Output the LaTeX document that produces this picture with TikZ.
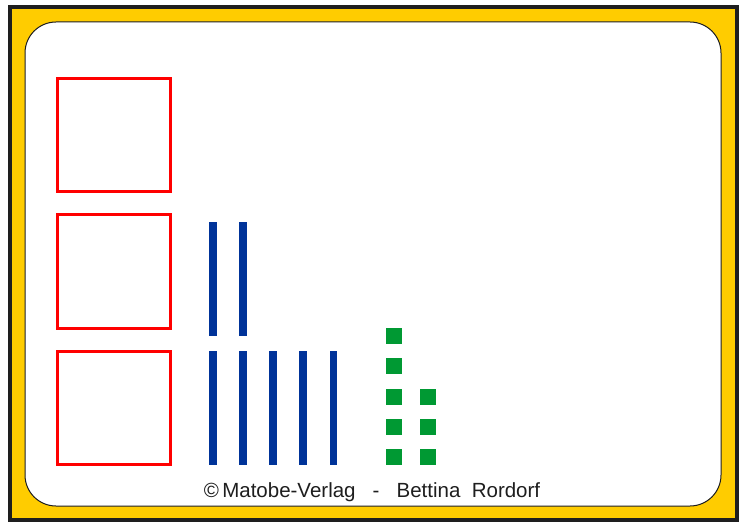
\documentclass[tikz,border=0pt]{standalone}
\usepackage{fontspec}
\setmainfont{Liberation Sans}
\definecolor{frameyellow}{HTML}{FFCC00}
\definecolor{frameblack}{HTML}{1E1E1E}
\definecolor{boxred}{HTML}{FF0000}
\definecolor{tenblue}{HTML}{003399}
\definecolor{onegreen}{HTML}{009933}
\tikzset{
  redbox/.style={draw=boxred, line width=3pt},
  tenbar/.style={fill=tenblue},
  onecube/.style={fill=onegreen},
}
\begin{document}
\begin{tikzpicture}[x=1pt,y=-1pt]
\useasboundingbox (0,0) rectangle (745,524);
\fill[white] (0,0) rectangle (745,524);
% frame
\draw[frameblack, line width=4pt, fill=frameyellow] (10,7) rectangle (737,520);
\draw[draw=frameblack, line width=1pt, fill=white, rounded corners=31pt] (25,22) rectangle (721,506);
% red boxes
\draw[redbox] (57,78.5) rectangle (170,191.5);
\draw[redbox] (57,215) rectangle (170,328);
\draw[redbox] (57,351.5) rectangle (170,464.5);
% blue tens (top row)
\foreach \x in {209,239} {
  \fill[tenbar] (\x,222.5) rectangle ++(7.7,113);
}
% blue tens (bottom row)
\foreach \x in {209,239,269.3,299.3,329.7} {
  \fill[tenbar] (\x,351) rectangle ++(7.7,113.5);
}
% green ones
\foreach \y in {328,358,389,419,449} {
  \fill[onecube] (386,\y) rectangle ++(16,16);
}
\foreach \y in {389,419,449} {
  \fill[onecube] (420,\y) rectangle ++(16,16);
}
% copyright
\node[anchor=base, font=\fontsize{20.5}{24}\selectfont, text=frameblack, inner sep=0pt] (copy) at (372,497) {©\,Matobe-Verlag\ \ \ -\ \ \ Bettina\ \ Rordorf};
\end{tikzpicture}
\end{document}
